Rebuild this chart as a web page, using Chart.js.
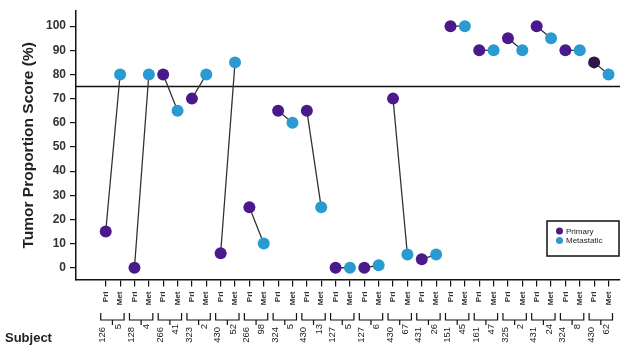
<!DOCTYPE html>
<html>
<head>
<meta charset="utf-8">
<script src="https://cdn.jsdelivr.net/npm/chart.js@4/dist/chart.umd.min.js"></script>
<style>
  html, body { margin: 0; padding: 0; background: #ffffff; }
  #wrap { width: 628px; height: 345px; position: relative; }
</style>
</head>
<body>
<div id="wrap"><canvas id="c" width="628" height="345"></canvas></div>
<script>
// ---- data ----
const subjectPri = ['126','128','266','323','430','266','324','430','127','127','430','431','151','161','325','431','324','430'];
const subjectMet = ['5','4','41','2','52','98','5','13','5','6','67','26','45','47','2','24','8','62'];
const primary    = [15, 0, 80, 70, 6, 25, 65, 65, 0, 0, 70, 3.5, 100, 90, 95, 100, 90, 85];
const metastatic = [80, 80, 65, 80, 85, 10, 60, 25, 0, 1, 5.5, 5.5, 100, 90, 90, 95, 90, 80];
const tickLabels = ['Pri', 'Met'];
const yTicks = [0, 10, 20, 30, 40, 50, 60, 70, 80, 90, 100];
const threshold = 75;
const legendLabels = ['Primary', 'Metastatic'];

const PRI = '#4a1a8c';
const MET = '#2a9bd1';
const FONT = '"Liberation Sans", Arial, sans-serif';

const priPts = primary.map((v, i) => ({ x: 2 * i, y: v }));
const metPts = metastatic.map((v, i) => ({ x: 2 * i + 1, y: v }));
const connectors = [];
primary.forEach((v, i) => {
  connectors.push({ x: 2 * i, y: v });
  connectors.push({ x: 2 * i + 1, y: metastatic[i] });
  connectors.push({ x: 2 * i + 1.5, y: null });
});

const decor = {
  id: 'decor',
  afterDraw(chart) {
    const ctx = chart.ctx;
    const xs = chart.scales.x;
    const area = chart.chartArea;
    ctx.save();
    ctx.strokeStyle = '#111';
    ctx.lineWidth = 1.2;
    ctx.fillStyle = '#222';
    ctx.font = '9.5px ' + FONT;
    subjectPri.forEach((s, i) => {
      const xp = xs.getPixelForValue(2 * i);
      const xm = xs.getPixelForValue(2 * i + 1);
      const xl = xp - 5, xr = xm + 4, yb = 320;
      const cx = (xl + xr) / 2;
      ctx.beginPath();
      ctx.moveTo(xl, 313); ctx.lineTo(xl, yb); ctx.lineTo(xr, yb); ctx.lineTo(xr, 313);
      ctx.moveTo(cx, yb); ctx.lineTo(cx, 325);
      ctx.stroke();
      [[s, xp - 3, 327], [subjectMet[i], xm - 2, 324]].forEach(([t, x, y]) => {
        ctx.save();
        ctx.translate(x, y);
        ctx.rotate(-Math.PI / 2);
        ctx.textAlign = 'right';
        ctx.textBaseline = 'middle';
        ctx.fillText(t, 0, 0);
        ctx.restore();
      });
    });
    // Subject label
    ctx.font = 'bold 13px ' + FONT;
    ctx.fillStyle = '#222';
    ctx.textAlign = 'left';
    ctx.textBaseline = 'middle';
    ctx.fillText('Subject', 5, 338);
    // legend box
    const bx = area.right - 73, by = 221, bw = 72, bh = 35;
    ctx.lineWidth = 1.5;
    ctx.strokeStyle = '#111';
    ctx.fillStyle = '#fff';
    ctx.fillRect(bx, by, bw, bh);
    ctx.strokeRect(bx, by, bw, bh);
    ctx.font = '8px ' + FONT;
    [[PRI, legendLabels[0], by + 10], [MET, legendLabels[1], by + 19.5]].forEach(([c, t, y]) => {
      ctx.fillStyle = c;
      ctx.beginPath(); ctx.arc(bx + 12.5, y, 3.5, 0, Math.PI * 2); ctx.fill();
      ctx.fillStyle = '#222';
      ctx.textAlign = 'left';
      ctx.fillText(t, bx + 19, y + 0.5);
    });
    ctx.restore();
  }
};

new Chart(document.getElementById('c'), {
  type: 'line',
  data: {
    datasets: [
      { label: legendLabels[0], type: 'scatter', data: priPts, order: 0,
        pointRadius: 6, pointBorderWidth: 0,
        pointBackgroundColor: ctx => ctx.dataIndex === primary.length - 1 ? '#2b1748' : PRI },
      { label: legendLabels[1], type: 'scatter', data: metPts, order: 1,
        pointRadius: 6, pointBorderWidth: 0, pointBackgroundColor: MET },
      { label: 'pairs', data: connectors, order: 2, borderColor: '#333', borderWidth: 1.3,
        pointRadius: 0, spanGaps: false, fill: false },
      { label: 'threshold', data: [{ x: -10, y: threshold }, { x: 50, y: threshold }], order: 3,
        borderColor: '#111', borderWidth: 1.5, pointRadius: 0, fill: false }
    ]
  },
  options: {
    responsive: false,
    animation: false,
    events: [],
    layout: { padding: { left: 0, right: 8, top: 10, bottom: 0 } },
    plugins: { legend: { display: false }, tooltip: { enabled: false } },
    scales: {
      x: {
        type: 'linear',
        min: -2.07, max: 35.8,
        afterBuildTicks: s => { s.ticks = Array.from({ length: 36 }, (_, i) => ({ value: i })); },
        afterFit: s => { s.height = 65.5; },
        ticks: {
          autoSkip: false, minRotation: 90, maxRotation: 90, padding: 5,
          font: { family: FONT, size: 8, weight: 'bold' }, color: '#333',
          callback: v => tickLabels[v % 2]
        },
        grid: { drawOnChartArea: false, drawTicks: true, tickLength: 7, color: '#111', lineWidth: 1.2 },
        border: { display: true, color: '#111', width: 1.5 }
      },
      y: {
        min: -4.86, max: 106.18,
        afterBuildTicks: s => { s.ticks = yTicks.map(v => ({ value: v })); },
        afterFit: s => { s.width = 76; },
        ticks: { padding: 4, font: { family: FONT, size: 12, weight: 'bold' }, color: '#333' },
        grid: { drawOnChartArea: false, drawTicks: true, tickLength: 6, color: '#111', lineWidth: 1.2 },
        border: { display: true, color: '#111', width: 1.5 },
        title: { display: true, text: 'Tumor Proportion Score (%)', color: '#222',
                 font: { family: FONT, size: 15.5, weight: 'bold' }, padding: { top: 19, bottom: 0 } }
      }
    }
  },
  plugins: [decor]
});
</script>
</body>
</html>
